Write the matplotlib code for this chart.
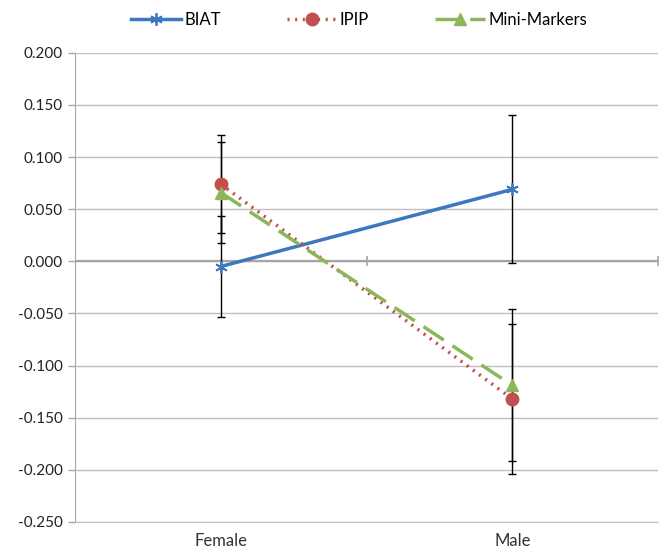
import matplotlib
matplotlib.use("Agg")
import matplotlib.pyplot as plt
import numpy as np

plt.rcParams['font.family'] = ['Lato', 'DejaVu Sans']

groups = ["Female", "Male"]
biat = [-0.005, 0.069]
biat_err = [0.048, 0.071]
ipip = [0.074, -0.132]
ipip_err = [0.047, 0.072]
mini = [0.066, -0.119]
mini_err = [0.048, 0.073]

x = np.arange(len(groups))
yticks = np.round(np.arange(-0.25, 0.2001, 0.05), 3)

fig = plt.figure(figsize=(6.64, 5.5), dpi=100)
ax = fig.add_axes([0.113, 0.051, 0.878, 0.853])

grid_col = "#BFBFBF"
for v in yticks:
    ax.axhline(v, color=grid_col, lw=1.0, zorder=0)
ax.axhline(0, color="#A6A6A6", lw=1.6, zorder=1)
# category boundary ticks on the zero axis
ax.plot([0.5, 1.5], [0, 0], ls="none", marker="|", ms=7, mew=1.2,
        color="#A6A6A6", zorder=1, clip_on=False)

ekw = dict(fmt="none", ecolor="black", elinewidth=1.0, capsize=3,
           capthick=1.0, zorder=2)
ax.errorbar(x, biat, yerr=biat_err, **ekw)
ax.errorbar(x, ipip, yerr=ipip_err, **ekw)
ax.errorbar(x, mini, yerr=mini_err, **ekw)

ax.plot(x, biat, color="#3D78BE", lw=2.5, marker=(6, 2, 0), ms=9,
        mew=1.3, label="BIAT", zorder=3)
ax.plot(x, ipip, color="#C0504D", lw=2.5, ls=(0, (0.6, 1.6)),
        marker="o", ms=9, label="IPIP", zorder=4)
ax.plot(x, mini, color="#8DB65A", lw=2.5, ls=(0, (7, 3)),
        marker="^", ms=9, label="Mini-Markers", zorder=5)

ax.set_xlim(-0.5, 1.5)
ax.set_ylim(-0.25, 0.2)
ax.set_yticks(yticks)
ax.set_yticklabels([f"{v + 0.0:.3f}" for v in yticks])
ax.set_xticks(x)
ax.set_xticklabels(groups)
ax.tick_params(axis="x", length=0, pad=8, labelsize=12, colors="#333333")
ax.tick_params(axis="y", length=5, width=1, color="#A6A6A6", pad=4,
               labelsize=11, labelcolor="#222222")

for s in ["top", "right"]:
    ax.spines[s].set_visible(False)
ax.spines["left"].set_color("#A6A6A6")
ax.spines["bottom"].set_color(grid_col)

ax.legend(loc="upper center", bbox_to_anchor=(0.487, 1.12), ncol=3,
          frameon=False, fontsize=12, handlelength=3.0, columnspacing=3.95,
          handletextpad=0.2)

fig.savefig("out.png", dpi=100)
